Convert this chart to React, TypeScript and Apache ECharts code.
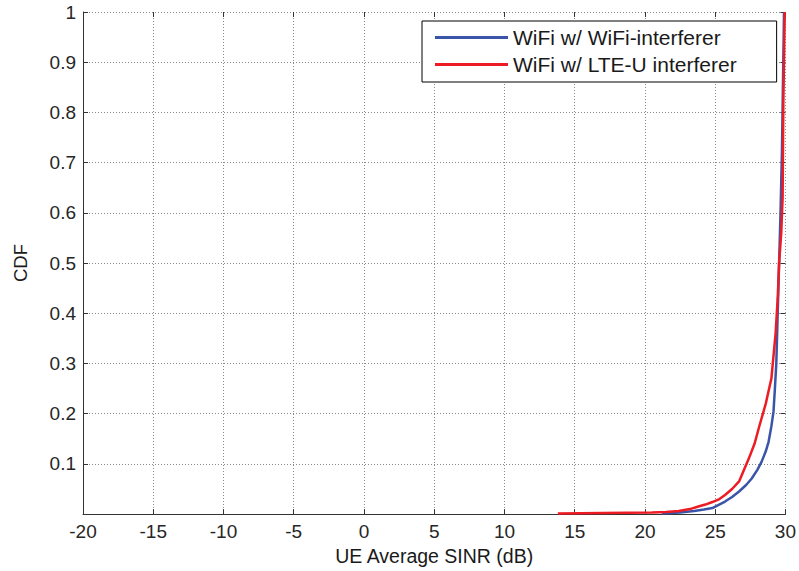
import React, { useEffect, useRef } from "react";
import * as echarts from "echarts";

const xTicksMin = -20;
const xTicksMax = 30;
const seriesNames = ["WiFi w/ WiFi-interferer", "WiFi w/ LTE-U interferer"];

const wifiX = [21.2, 22.5, 23.5, 24.2, 24.8, 25.7, 26.2, 26.7, 27.2, 27.6, 28.0, 28.3, 28.6, 28.8, 29.0, 29.15, 29.25, 29.35, 29.45, 29.55, 29.65, 29.75, 29.82, 29.9];
const wifiY = [0.001, 0.003, 0.006, 0.009, 0.012, 0.025, 0.034, 0.045, 0.058, 0.071, 0.088, 0.104, 0.125, 0.144, 0.175, 0.204, 0.25, 0.3, 0.4, 0.5, 0.6, 0.72, 0.85, 1.0];

const lteX = [13.8, 17, 20.5, 21.5, 22.4, 23.2, 23.8, 24.3, 24.8, 25.3, 25.7, 26.2, 26.7, 27.0, 27.4, 27.8, 28.1, 28.6, 29.0, 29.3, 29.45, 29.55, 29.7, 29.8, 29.85, 29.95];
const lteY = [0.001, 0.002, 0.003, 0.004, 0.006, 0.01, 0.015, 0.019, 0.024, 0.03, 0.038, 0.05, 0.065, 0.085, 0.111, 0.14, 0.171, 0.22, 0.27, 0.36, 0.43, 0.5, 0.56, 0.63, 0.82, 1.0];

const FONT = "Liberation Sans, Arial, sans-serif";

export default function App() {
  const ref = useRef<HTMLDivElement>(null);
  useEffect(() => {
    document.body.style.margin = "0";
    const chart = echarts.init(ref.current!, undefined, { renderer: "svg" });
    const gridLine = { show: true, lineStyle: { color: "#8a8a8a", type: [1, 2] as any, width: 1 } };
    const tick = { show: true, inside: true, length: 5, lineStyle: { color: "#333" } };
    chart.setOption({
      animation: false,
      backgroundColor: "#fff",
      textStyle: { fontFamily: FONT },
      grid: { left: 83, top: 12, right: 12, bottom: 55, containLabel: false },
      legend: {
        data: seriesNames,
        orient: "vertical",
        left: 422,
        top: 21,
        icon: "rect",
        itemWidth: 73,
        itemHeight: 3,
        itemGap: 6,
        padding: [6, 40, 7, 13],
        borderColor: "#000",
        borderWidth: 1,
        borderRadius: 0,
        backgroundColor: "#fff",
        textStyle: { fontSize: 21, color: "#1a1a1a", fontFamily: FONT },
      },
      xAxis: [
        {
          type: "value",
          min: xTicksMin,
          max: xTicksMax,
          interval: 5,
          name: "UE Average SINR (dB)",
          nameLocation: "middle",
          nameGap: 31,
          nameTextStyle: { fontSize: 19.5, color: "#1a1a1a", fontFamily: FONT },
          axisLine: { show: true, onZero: false, lineStyle: { color: "#333", width: 1 } },
          axisTick: tick,
          axisLabel: { fontSize: 19, color: "#262626", margin: 8, fontFamily: FONT },
          splitLine: gridLine,
        },
        {
          type: "value",
          position: "top",
          min: xTicksMin,
          max: xTicksMax,
          interval: 5,
          axisLine: { show: false, onZero: false },
          axisTick: tick,
          axisLabel: { show: false },
          splitLine: { show: false },
        },
      ],
      yAxis: [
        {
          type: "value",
          min: 0,
          max: 1,
          interval: 0.1,
          name: "CDF",
          nameLocation: "middle",
          nameGap: 53,
          nameTextStyle: { fontSize: 18.5, color: "#1a1a1a", fontFamily: FONT },
          axisLine: { show: true, onZero: false, lineStyle: { color: "#333", width: 1 } },
          axisTick: tick,
          axisLabel: {
            fontSize: 19,
            color: "#262626",
            margin: 7,
            fontFamily: FONT,
            formatter: (v: number) => (v === 0 ? "" : String(Math.round(v * 10) / 10)),
          },
          splitLine: gridLine,
        },
        {
          type: "value",
          position: "right",
          min: 0,
          max: 1,
          interval: 0.1,
          axisLine: { show: false, onZero: false },
          axisTick: tick,
          axisLabel: { show: false },
          splitLine: { show: false },
        },
      ],
      series: [
        {
          name: seriesNames[0],
          type: "line",
          showSymbol: false,
          data: wifiX.map((x, i) => [x, wifiY[i]]),
          lineStyle: { color: "#3A55A8", width: 2.5 },
          itemStyle: { color: "#3A55A8" },
        },
        {
          name: seriesNames[1],
          type: "line",
          showSymbol: false,
          data: lteX.map((x, i) => [x, lteY[i]]),
          lineStyle: { color: "#ED1C24", width: 2.5 },
          itemStyle: { color: "#ED1C24" },
        },
      ],
    });
    return () => chart.dispose();
  }, []);
  return (
    <div
      ref={ref}
      style={{ position: "fixed", left: 0, top: 0, width: 799, height: 571 }}
    />
  );
}
